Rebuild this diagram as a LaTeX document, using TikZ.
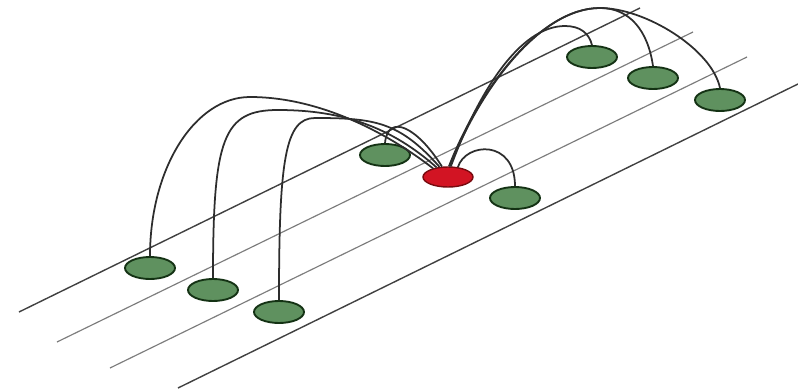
\documentclass[tikz,border=0pt]{standalone}
\usepackage{tikz}
\usetikzlibrary{shapes.geometric}
\usepackage{xcolor}

\definecolor{lanedark}{RGB}{65,65,65}
\definecolor{lanelight}{RGB}{125,125,125}
\definecolor{hopfill}{RGB}{95,145,95}
\definecolor{hopdraw}{RGB}{20,50,20}
\definecolor{srcfill}{RGB}{210,20,35}
\definecolor{srcdraw}{RGB}{120,10,15}
\definecolor{linkcol}{RGB}{45,45,45}

\begin{document}
\begin{tikzpicture}[
    x=0.03cm, y=-0.03cm,
    lane/.style={draw=lanedark, line width=1.2pt},
    lanelt/.style={draw=lanelight, line width=1pt},
    hop/.style={
        ellipse,
        draw=hopdraw,
        fill=hopfill,
        line width=1.6pt,
        inner sep=0pt,
        minimum width=1.5cm,
        minimum height=0.66cm
    },
    src/.style={
        ellipse,
        draw=srcdraw,
        fill=srcfill,
        line width=1.2pt,
        inner sep=0pt,
        minimum width=1.5cm,
        minimum height=0.6cm
    },
    link/.style={draw=linkcol, line width=1.5pt}
]

\useasboundingbox (0,0) rectangle (798,391);

% lanes
\coordinate (l1a) at (19,312);  \coordinate (l1b) at (640,8);
\coordinate (l2a) at (57,342);  \coordinate (l2b) at (693,32);
\coordinate (l3a) at (110,368); \coordinate (l3b) at (747,57);
\coordinate (l4a) at (178,388); \coordinate (l4b) at (798,84);

\draw[lane] (l1a) -- (l1b);
\draw[lanelt] (l2a) -- (l2b);
\draw[lanelt] (l3a) -- (l3b);
\draw[lane] (l4a) -- (l4b);

% vehicles
\node[hop] (g1) at (150,268) {};
\node[hop] (g2) at (213,290) {};
\node[hop] (g3) at (279,312) {};
\node[hop] (g4) at (385,155) {};
\node[src] (r)  at (448,177) {};
\node[hop] (g6) at (515,198) {};
\node[hop] (g7) at (592,57) {};
\node[hop] (g8) at (653,78) {};
\node[hop] (g9) at (720,100) {};

% links into the source
\draw[link] (g1.north) .. controls +(0,-88) and +(-55,0) .. (250,97)
    .. controls +(70,0) and +(-45,-35) .. (r.150);
\draw[link] (g2.north) .. controls +(0,-140) and +(-55,0) .. (278,110)
    .. controls +(65,0) and +(-45,-40) .. (r.140);
\draw[link] (g3.north) .. controls +(0,-140) and +(-30,0) .. (315,118)
    .. controls +(60,0) and +(-40,-45) .. (r.130);
\draw[link] (g4.north) .. controls +(3,-30) and +(-25,-40) .. (r.120);

% links out of the source
\draw[link] (r.80) .. controls +(30,-77) and +(-60,0) .. (600,8)
    .. controls +(45,0) and +(-8,-39) .. (g9.north);
\draw[link] (r.85) .. controls +(30,-77) and +(-60,0) .. (600,8)
    .. controls +(30,0) and +(-5,-35) .. (g8.north);
\draw[link] (r.75) .. controls +(28,-75) and +(-45,0) .. (565,26)
    .. controls +(15,0) and +(-3,-12) .. (g7.north);
\draw[link] (r.45) .. controls +(8,-25) and +(0,-47) .. (g6.north);

\end{tikzpicture}
\end{document}
